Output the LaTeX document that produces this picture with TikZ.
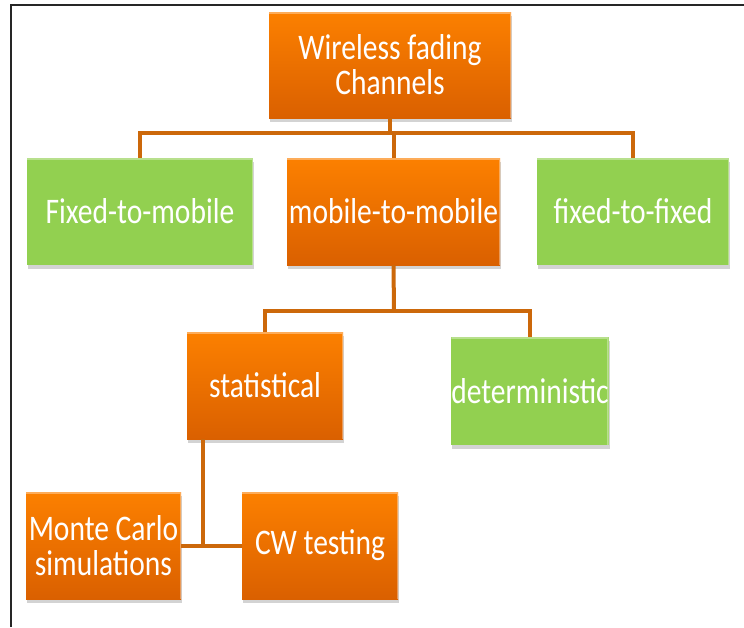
\documentclass[tikz,border=0pt]{standalone}
\usepackage{fontspec}
\setmainfont{Carlito}[FakeStretch=0.82]
\usetikzlibrary{positioning,shadows,calc}

\definecolor{fadeorange}{RGB}{252,128,0}
\definecolor{fadeorangedark}{RGB}{218,96,0}
\definecolor{fadegreen}{RGB}{146,208,80}
\definecolor{linkbrown}{RGB}{204,104,10}

\begin{document}
\begin{tikzpicture}[x=1pt, y=-1pt,
  box/.style={rectangle, inner sep=0pt, text=white, align=center,
    font=\fontsize{36}{35}\selectfont,
    drop shadow={opacity=0.35, shadow xshift=1pt, shadow yshift=-4pt},
    path picture={
      \draw[white, opacity=0.35, line width=3pt]
        (path picture bounding box.north west) -- (path picture bounding box.north east)
        -- (path picture bounding box.south east);}},
  orangebox/.style={box, top color=fadeorange, bottom color=fadeorangedark},
  greenbox/.style={box, fill=fadegreen},
  link/.style={draw=linkbrown, line width=4pt}
]
  \useasboundingbox (0,0) rectangle (744,627);

  % Frame
  \draw[line width=1.5pt, black!85] (11,627) -- (11,5) -- (744,5);

  % Connectors
  \coordinate (bus1) at (390,133);
  \coordinate (bus2) at (394,311);
  \coordinate (bus3) at (203,546);

  % Boxes
  \node[orangebox, minimum width=242pt, minimum height=106pt] (root) at (390,65) {Wireless fading\\Channels};
  \node[greenbox, minimum width=226pt, minimum height=107pt] (f2m) at (140,211.5) {Fixed-to-mobile};
  \node[orangebox, minimum width=213pt, minimum height=107pt] (m2m) at (393.5,211.5) {mobile-to-mobile};
  \node[greenbox, minimum width=192pt, minimum height=107pt] (f2f) at (633,211.5) {fixed-to-fixed};
  \node[orangebox, minimum width=156pt, minimum height=107pt] (stat) at (265,385.5) {statistical};
  \node[greenbox, minimum width=156pt, minimum height=108pt] (det) at (530,391) {deterministic};
  \node[orangebox, minimum width=155pt, minimum height=107pt] (mc) at (103.5,545.5) {Monte Carlo\\simulations};
  \node[orangebox, minimum width=156pt, minimum height=107pt] (cw) at (320,545.5) {CW testing};

  % Tree links
  \draw[link] (root.south) -- (bus1);
  \draw[link] (f2m.north) |- (bus1) -| (f2f.north);
  \draw[link] (bus1) -| (m2m.north);
  \draw[link] (m2m.south) -- (bus2);
  \draw[link] (stat.north) |- (bus2) -| (det.north);
  \draw[link] (mc.east) -- (cw.west);
  \draw[link] (bus3) -- (bus3 |- stat.south);
\end{tikzpicture}
\end{document}
